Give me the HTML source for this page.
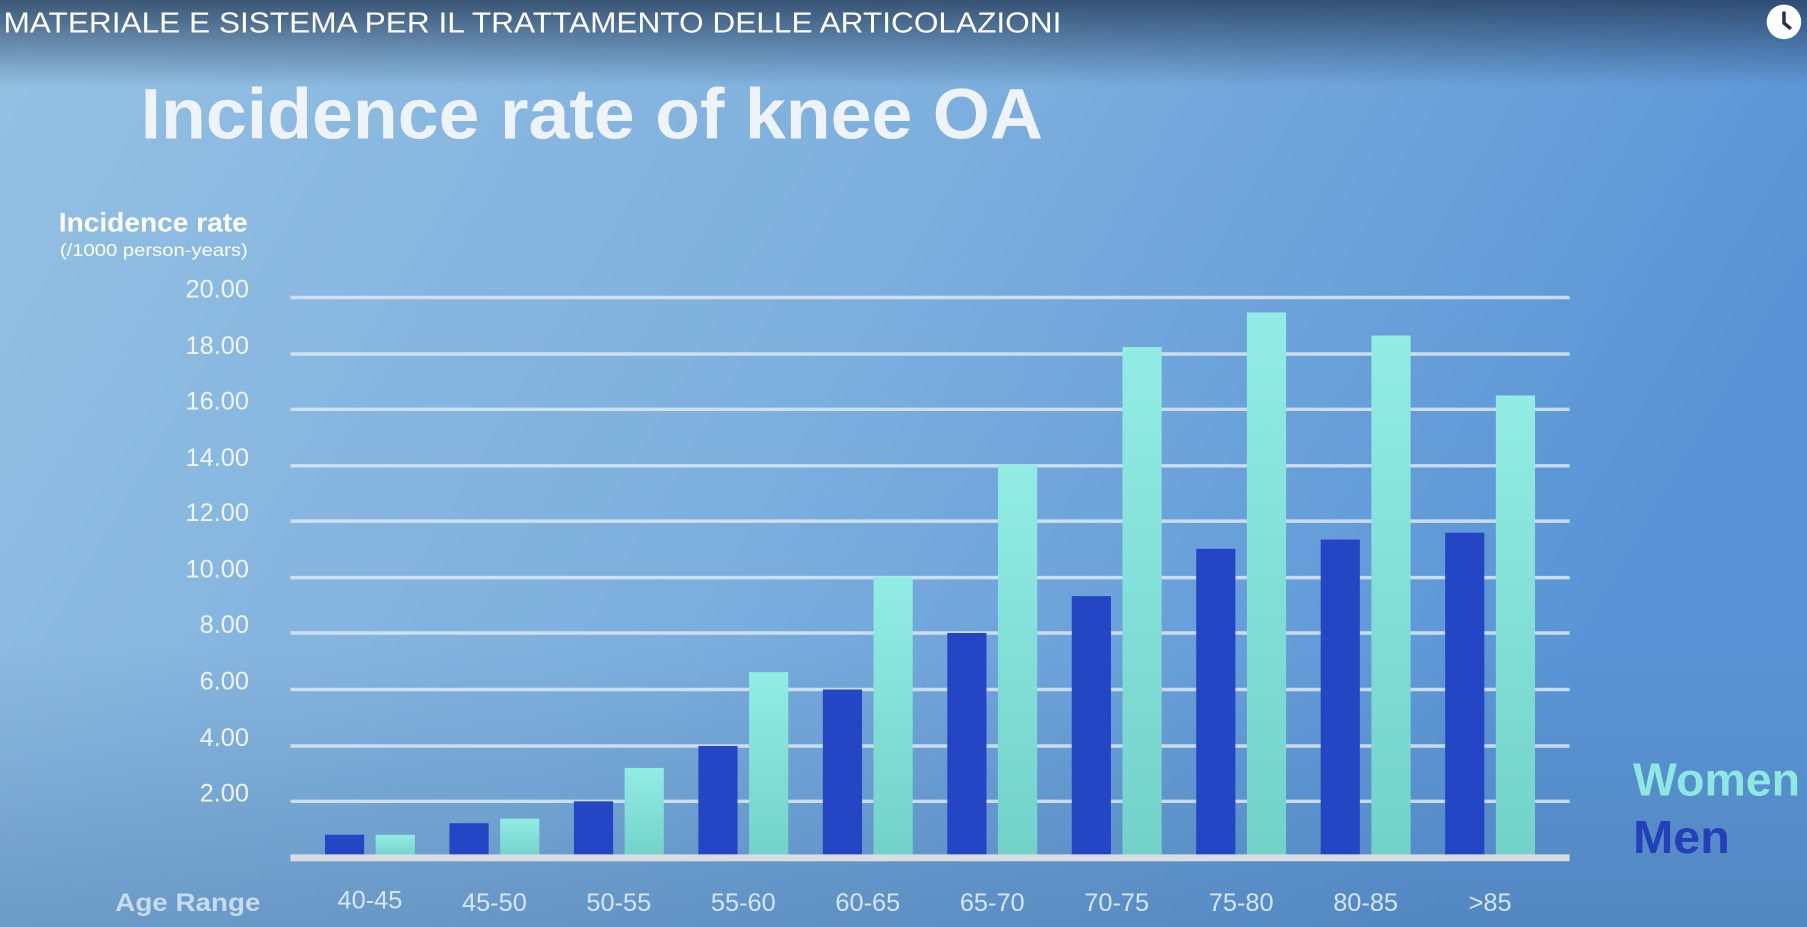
<!DOCTYPE html>
<html><head><meta charset="utf-8"><style>html,body{margin:0;padding:0;overflow:hidden;background:#6fa6dc}</style></head>
<body>
<svg width="1807" height="927" viewBox="0 0 1568 804" preserveAspectRatio="none" xmlns="http://www.w3.org/2000/svg" style="display:block;font-family:'Liberation Sans',sans-serif">
<defs>
<linearGradient id="bg" x1="0" y1="0" x2="1" y2="0.3">
<stop offset="0" stop-color="#94c0e2"/><stop offset="0.5" stop-color="#7eb0de"/><stop offset="1" stop-color="#5a94d6"/>
</linearGradient>
<linearGradient id="top" x1="0" y1="0" x2="0" y2="1">
<stop offset="0" stop-color="#1e3350" stop-opacity="0.75"/><stop offset="1" stop-color="#1e3350" stop-opacity="0"/>
</linearGradient>
<linearGradient id="bot" x1="0" y1="0" x2="0" y2="1">
<stop offset="0" stop-color="#4a78a8" stop-opacity="0"/><stop offset="1" stop-color="#4a78a8" stop-opacity="0.45"/>
</linearGradient>
<linearGradient id="wg" x1="0" y1="0" x2="0" y2="1">
<stop offset="0" stop-color="#92ece4"/><stop offset="1" stop-color="#72d2c9"/>
</linearGradient>
</defs>
<rect width="1568" height="804" fill="url(#bg)"/>
<rect width="1568" height="75" fill="url(#top)"/>
<rect y="560" width="1568" height="244" fill="url(#bot)"/>
<text x="3" y="28" font-size="25" fill="#fff" textLength="918" lengthAdjust="spacingAndGlyphs">MATERIALE E SISTEMA PER IL TRATTAMENTO DELLE ARTICOLAZIONI</text>
<circle cx="1548" cy="19" r="15" fill="#fff"/>
<path d="M1548 10 V20 L1554 25" stroke="#1e3350" stroke-width="3" fill="none"/>
<text x="122" y="120" font-size="62" font-weight="bold" fill="#eef3f8" textLength="783" lengthAdjust="spacingAndGlyphs">Incidence rate of knee OA</text>
<text x="51" y="201" font-size="23" font-weight="bold" fill="#fff" textLength="164" lengthAdjust="spacingAndGlyphs">Incidence rate</text>
<text x="52" y="222" font-size="15" fill="#fff" textLength="163" lengthAdjust="spacingAndGlyphs">(/1000 person-years)</text>
<g stroke="#dbe8f4" stroke-width="3" opacity="0.85">
<line x1="252" x2="1362" y1="258" y2="258"/><line x1="252" x2="1362" y1="307" y2="307"/>
<line x1="252" x2="1362" y1="355" y2="355"/><line x1="252" x2="1362" y1="404" y2="404"/>
<line x1="252" x2="1362" y1="452" y2="452"/><line x1="252" x2="1362" y1="501" y2="501"/>
<line x1="252" x2="1362" y1="549" y2="549"/><line x1="252" x2="1362" y1="598" y2="598"/>
<line x1="252" x2="1362" y1="647" y2="647"/><line x1="252" x2="1362" y1="695" y2="695"/>
</g>
<g font-size="22" fill="#eef4fa" text-anchor="end">
<text x="216" y="258">20.00</text><text x="216" y="307">18.00</text><text x="216" y="355">16.00</text>
<text x="216" y="404">14.00</text><text x="216" y="452">12.00</text><text x="216" y="501">10.00</text>
<text x="216" y="549">8.00</text><text x="216" y="598">6.00</text><text x="216" y="647">4.00</text>
<text x="216" y="695">2.00</text>
</g>
<g fill="#2546c4">
<rect x="282" y="724" width="34" height="19"/><rect x="390" y="714" width="34" height="29"/>
<rect x="498" y="695" width="34" height="48"/><rect x="606" y="647" width="34" height="96"/>
<rect x="714" y="598" width="34" height="145"/><rect x="822" y="549" width="34" height="194"/>
<rect x="930" y="517" width="34" height="226"/><rect x="1038" y="476" width="34" height="267"/>
<rect x="1146" y="468" width="34" height="275"/><rect x="1254" y="462" width="34" height="281"/>
</g>
<g fill="url(#wg)">
<rect x="326" y="724" width="34" height="19"/><rect x="434" y="710" width="34" height="33"/>
<rect x="542" y="666" width="34" height="77"/><rect x="650" y="583" width="34" height="160"/>
<rect x="758" y="500" width="34" height="243"/><rect x="866" y="403" width="34" height="340"/>
<rect x="974" y="301" width="34" height="442"/><rect x="1082" y="271" width="34" height="472"/>
<rect x="1190" y="291" width="34" height="452"/><rect x="1298" y="343" width="34" height="400"/>
</g>
<rect x="252" y="741" width="1110" height="6" fill="#d8dde2"/>
<g font-size="22" fill="#d6e6f4" text-anchor="middle">
<text x="321" y="788">40-45</text><text x="429" y="790">45-50</text><text x="537" y="790">50-55</text>
<text x="645" y="790">55-60</text><text x="753" y="790">60-65</text><text x="861" y="790">65-70</text>
<text x="969" y="790">70-75</text><text x="1077" y="790">75-80</text><text x="1185" y="790">80-85</text>
<text x="1293" y="790">&gt;85</text>
</g>
<text x="100" y="790" font-size="22" font-weight="bold" fill="#c8dcef" textLength="126" lengthAdjust="spacingAndGlyphs">Age Range</text>
<text x="1417" y="690" font-size="40" font-weight="bold" fill="#8de8e0" textLength="145" lengthAdjust="spacingAndGlyphs">Women</text>
<text x="1417" y="740" font-size="40" font-weight="bold" fill="#2340b8" textLength="84" lengthAdjust="spacingAndGlyphs">Men</text>
</svg>
</body></html>
